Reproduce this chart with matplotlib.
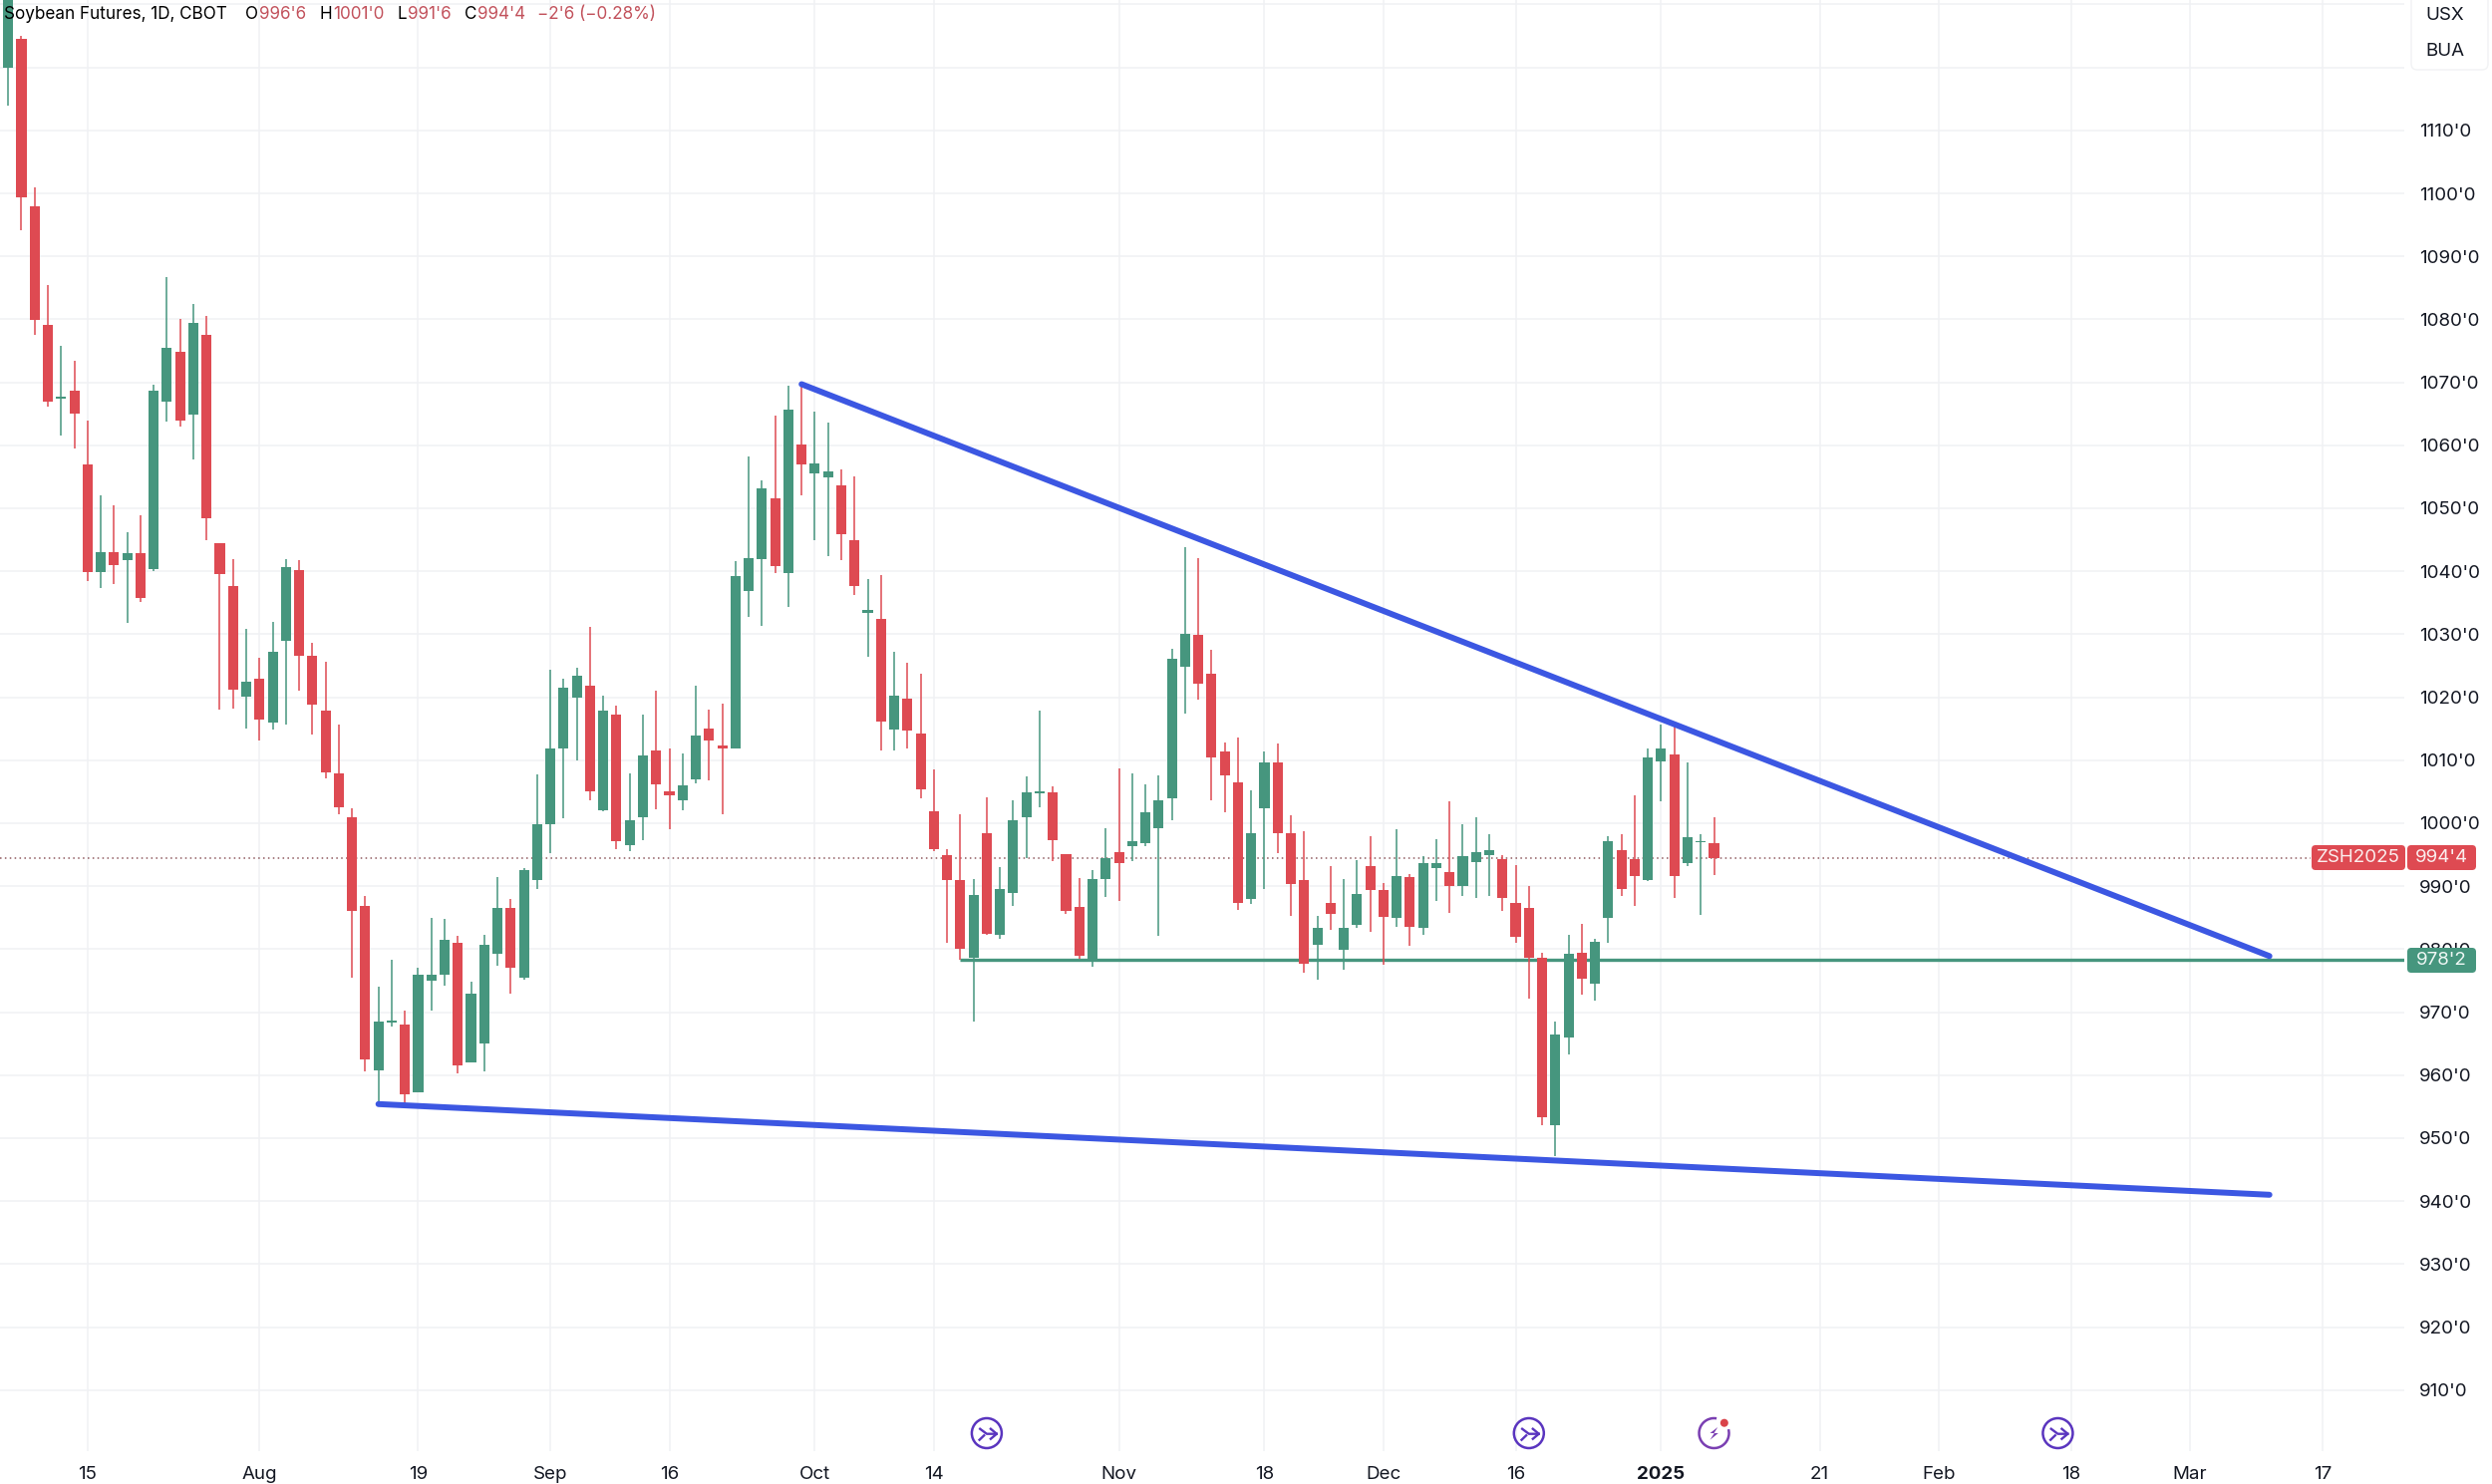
import matplotlib
matplotlib.use('Agg')
import matplotlib.pyplot as plt
from matplotlib.patches import FancyBboxPatch, Arc, Circle, Polygon

plt.rcParams['font.family'] = ['Inter', 'DejaVu Sans']

# %% Daily candles
opens = [1119.9, 1124.5, 1097.9, 1079.1, 1067.4, 1068.7, 1056.9, 1039.9, 1043.1, 1041.8,
         1042.8, 1040.3, 1066.9, 1074.9, 1064.9, 1077.6, 1044.4, 1037.7, 1020.1, 1022.9,
         1015.9, 1028.9, 1040.2, 1026.6, 1017.9, 1007.9, 1001.0, 986.8, 960.8, 968.3,
         968.1, 957.3, 975.0, 976.0, 981.0, 962.0, 965.0, 979.2, 986.6, 975.4,
         991.0, 999.9, 1011.9, 1019.9, 1021.9, 1002.1, 1017.2, 996.5, 1001.0, 1011.5,
         1005.0, 1003.7, 1006.9, 1015.0, 1012.4, 1011.9, 1036.8, 1041.9, 1051.6, 1039.7,
         1060.2, 1055.6, 1054.9, 1053.6, 1044.9, 1033.4, 1032.4, 1014.9, 1019.7, 1014.3,
         1001.9, 994.9, 990.9, 978.6, 998.4, 982.3, 988.9, 1000.9, 1004.8, 1004.9,
         995.1, 986.7, 978.2, 991.1, 995.4, 996.4, 996.9, 999.2, 1003.9, 1024.9,
         1029.9, 1023.7, 1011.4, 1006.5, 987.9, 1002.4, 1009.6, 998.4, 991.0, 980.7,
         987.4, 979.9, 983.9, 993.2, 989.4, 984.9, 991.4, 983.4, 992.9, 992.2,
         990.0, 993.9, 994.9, 994.3, 987.4, 986.5, 978.7, 952.0, 966.0, 979.4,
         974.5, 985.0, 995.7, 994.3, 990.9, 1009.8, 1010.9, 993.6, 997.0, 996.75]
closes = [1131.5, 1099.4, 1079.9, 1066.9, 1067.7, 1065.1, 1039.9, 1043.1, 1040.9, 1042.8,
          1035.8, 1068.7, 1075.4, 1063.9, 1079.5, 1048.4, 1039.5, 1021.2, 1022.4, 1016.4,
          1027.2, 1040.6, 1026.6, 1018.8, 1008.1, 1002.5, 986.0, 962.5, 968.5, 968.6,
          957.0, 976.0, 976.0, 981.5, 961.6, 973.0, 980.7, 986.6, 977.0, 992.6,
          999.9, 1011.9, 1021.5, 1023.4, 1005.0, 1017.9, 997.2, 1000.5, 1010.8, 1006.1,
          1004.5, 1006.0, 1013.9, 1013.2, 1011.9, 1039.2, 1042.1, 1053.1, 1040.8, 1065.6,
          1056.9, 1057.1, 1055.9, 1045.9, 1037.7, 1033.9, 1016.2, 1020.2, 1014.7, 1005.4,
          995.9, 990.9, 980.0, 988.6, 982.5, 989.6, 1000.5, 1004.9, 1005.0, 997.3,
          986.0, 978.9, 991.2, 994.5, 993.6, 997.2, 1001.7, 1003.6, 1026.1, 1030.1,
          1022.1, 1010.5, 1007.6, 987.3, 998.4, 1009.6, 998.4, 990.4, 977.7, 983.4,
          985.6, 983.4, 988.7, 989.4, 985.1, 991.6, 983.6, 993.6, 993.6, 990.0,
          994.7, 995.4, 995.7, 988.2, 981.9, 978.7, 953.3, 966.4, 979.2, 975.3,
          981.1, 997.2, 989.6, 991.6, 1010.5, 1011.9, 991.6, 997.7, 997.2, 994.5]
highs = [1135.0, 1125.0, 1101.0, 1085.4, 1075.8, 1073.4, 1064.0, 1052.0, 1050.4, 1046.2,
         1048.9, 1069.6, 1086.7, 1080.1, 1082.5, 1080.5, 1044.5, 1041.9, 1030.8, 1026.2,
         1031.9, 1041.9, 1041.7, 1028.6, 1025.7, 1015.7, 1002.4, 988.5, 974.1, 978.3,
         970.3, 977.0, 985.0, 984.8, 982.1, 974.8, 982.3, 991.5, 988.0, 992.8,
         1007.7, 1024.4, 1023.0, 1024.6, 1031.2, 1020.2, 1018.7, 1007.9, 1017.2, 1021.0,
         1011.9, 1011.0, 1021.9, 1018.1, 1019.0, 1041.6, 1058.2, 1054.4, 1064.7, 1069.4,
         1069.7, 1065.3, 1063.6, 1056.2, 1055.0, 1038.8, 1039.4, 1027.2, 1025.5, 1023.7,
         1008.5, 995.9, 1001.4, 991.2, 1004.1, 993.1, 1003.6, 1007.4, 1017.9, 1005.9,
         995.1, 991.3, 992.6, 999.2, 1008.7, 1007.9, 1006.1, 1007.6, 1027.7, 1043.9,
         1042.1, 1027.5, 1012.8, 1013.6, 1005.2, 1011.4, 1012.7, 1001.3, 998.8, 985.2,
         993.2, 991.2, 994.2, 997.9, 990.5, 999.0, 991.9, 994.7, 997.4, 1003.5,
         999.9, 1000.9, 998.3, 995.0, 993.4, 990.0, 979.4, 968.5, 982.2, 984.0,
         981.7, 997.9, 998.3, 1004.5, 1011.9, 1015.7, 1015.3, 1009.6, 998.3, 1001.0]
lows = [1114.0, 1094.2, 1077.5, 1066.1, 1061.5, 1059.5, 1038.5, 1037.3, 1038.0, 1031.8,
        1035.2, 1040.0, 1063.7, 1062.9, 1057.8, 1045.0, 1018.0, 1018.2, 1015.0, 1013.1,
        1014.9, 1015.6, 1021.1, 1014.0, 1007.1, 1001.4, 975.5, 960.6, 955.5, 967.7,
        955.0, 957.3, 970.2, 974.2, 960.3, 962.0, 960.6, 977.3, 972.9, 975.1,
        989.5, 995.3, 1000.8, 1010.0, 1003.6, 1001.9, 995.8, 995.5, 997.3, 1002.2,
        999.1, 1002.0, 1006.3, 1006.8, 1001.4, 1011.9, 1032.7, 1031.3, 1039.7, 1034.3,
        1052.0, 1044.9, 1042.4, 1041.8, 1036.2, 1026.4, 1011.5, 1011.5, 1011.8, 1004.0,
        995.5, 981.0, 978.3, 968.5, 982.3, 981.7, 986.8, 994.4, 1002.6, 994.0,
        985.6, 978.4, 977.2, 988.3, 987.7, 994.0, 996.4, 982.1, 1000.5, 1017.4,
        1019.6, 1003.7, 1001.7, 986.3, 987.1, 989.5, 995.2, 985.3, 976.3, 975.2,
        983.0, 976.8, 983.3, 982.8, 977.6, 983.5, 980.6, 982.3, 987.7, 985.7,
        988.5, 988.1, 988.5, 986.1, 981.0, 972.1, 952.1, 947.1, 963.3, 972.8,
        971.9, 981.0, 988.5, 986.8, 990.8, 1003.5, 988.1, 993.2, 985.5, 991.75]

# axis labels
price_ticks = [910, 920, 930, 940, 950, 960, 970, 980, 990, 1000, 1010,
               1020, 1030, 1040, 1050, 1060, 1070, 1080, 1090, 1100, 1110, 1120, 1130]
price_labels = [f"{p}'0" if p < 1120 else '' for p in price_ticks]
date_ticks = [6, 19, 31, 41, 50, 61, 70, 84, 95, 104, 114, 125, 137, 146, 156, 165, 175]
date_labels = ['15', 'Aug', '19', 'Sep', '16', 'Oct', '14', 'Nov', '18', 'Dec',
               '16', '2025', '21', 'Feb', '18', 'Mar', '17']

# drawn trend lines (bar index, price)
upper_x = [60, 171]
upper_y = [1069.7, 978.9]
lower_x = [28, 171]
lower_y = [955.4, 941.0]
support_x = [72, 181.2]
support_y = [978.25, 978.25]
last_price = 994.5
event_bars = [74, 115, 155]
news_bar = 129

RED = '#de4a52'
GREEN = '#46967e'
BLUE = '#3c57e2'
GRID = '#f0f1f4'
TEXT = '#131722'

# %% Chart
fig = plt.figure(figsize=(25, 14.89), dpi=100)
ax = fig.add_axes([0, 33 / 1489, 2412 / 2500, 1456 / 1489])
ax.set_xlim(-0.62, 181.2)
ax.set_ylim(900.3, 1130.7)
for s in ax.spines.values():
    s.set_visible(False)
ax.set_axisbelow(True)
ax.grid(color=GRID, linewidth=1.1)
ax.set_yticks(price_ticks, price_labels)
ax.set_xticks(date_ticks, date_labels)
ax.yaxis.tick_right()
ax.tick_params(axis='y', length=0, pad=10.8, labelsize=13.5, labelcolor=TEXT)
ax.tick_params(axis='x', length=0, pad=11, labelsize=13.5, labelcolor=TEXT)
for lab in ax.get_xticklabels():
    if lab.get_text() == '2025':
        lab.set_fontweight('bold')

ax.axhline(last_price, xmax=(2318 / 2412), color='#8f5a5f', linewidth=1.1, linestyle=(0, (1, 2.2)), zorder=1)
ax.plot(support_x, support_y, color=GREEN, linewidth=2.4, zorder=1.5, solid_capstyle='butt')

for i in range(len(opens)):
    col = GREEN if closes[i] >= opens[i] else RED
    ax.vlines(i, lows[i], highs[i], color=col, linewidth=1.1, zorder=2)
    ax.bar(i, closes[i] - opens[i], bottom=opens[i], width=0.76, color=col, linewidth=0, zorder=3)

ax.plot(upper_x, upper_y, color=BLUE, linewidth=4.3, solid_capstyle='round', zorder=4)
ax.plot(lower_x, lower_y, color=BLUE, linewidth=4.3, solid_capstyle='round', zorder=4)

# %% Overlay in pixels for the header, price badges and event icons
ov = fig.add_axes([0, 0, 1, 1])
ov.set_xlim(0, 2500)
ov.set_ylim(1489, 0)
ov.axis('off')
ov.patch.set_alpha(0)


def badge(x0, x1, y0, y1, color):
    ov.add_patch(FancyBboxPatch((x0 + 3, y0 + 3), x1 - x0 - 6, y1 - y0 - 6, boxstyle='round,pad=3,rounding_size=4',
                                facecolor=color, edgecolor='none'))


badge(2319, 2413, 848, 873, RED)
badge(2415, 2484, 848, 873, RED)
badge(2415, 2484, 951, 976, GREEN)
ov.text(2366, 860.5, 'ZSH2025', color='#fbeeee', fontsize=13.5, ha='center', va='center')
ov.text(2449.5, 860.5, "994'4", color='#fbeeee', fontsize=13.5, ha='center', va='center')
ov.text(2449.5, 963.5, "978'2", color='#eef7f4', fontsize=13.5, ha='center', va='center')

# currency box, top right
ov.add_patch(FancyBboxPatch((2425, -20), 65, 84, boxstyle='round,pad=6,rounding_size=6',
                            facecolor='white', edgecolor='#f1f2f4', linewidth=1))
ov.text(2433, 15, 'USX', color=TEXT, fontsize=13.5, va='center')
ov.text(2433, 52, 'BUA', color=TEXT, fontsize=13.5, va='center')

# header
HEAD_RED = '#c2525c'
head = [(3.6, 'Soybean Futures, 1D, CBOT', 'black'), (246, 'O', 'black'), (260, "996'6", HEAD_RED),
        (320.5, 'H', 'black'), (334, "1001'0", HEAD_RED), (398.7, 'L', 'black'), (409, "991'6", HEAD_RED),
        (465.6, 'C', 'black'), (478.6, "994'4", HEAD_RED), (539, "\u22122'6 (\u22120.28%)", HEAD_RED)]
for hx, txt, col in head:
    ov.text(hx, 14.5, txt, color=col, fontsize=12.3, va='center', ha='left')

# event icons along the bottom
ICON_Y = 1438
PURPLE = '#5a35bf'
for b in event_bars:
    cx = ax.transData.transform((b, 1000))[0]
    ov.add_patch(Circle((cx, ICON_Y), 15, fill=False, edgecolor=PURPLE, linewidth=1.8))
    ov.plot([cx - 6.7, cx, cx + 10], [ICON_Y - 4.3, ICON_Y + 0.7, ICON_Y + 0.7], color=PURPLE, linewidth=1.7)
    ov.plot([cx + 4, cx + 10, cx + 4], [ICON_Y - 4.3, ICON_Y + 0.7, ICON_Y + 5.7], color=PURPLE, linewidth=1.7)
    ov.plot([cx - 7.3, cx - 2.7], [ICON_Y + 6.7, ICON_Y + 2.3], color=PURPLE, linewidth=1.7)

nx = ax.transData.transform((news_bar, 1000))[0]
ov.add_patch(Arc((nx, ICON_Y), 30, 30, theta1=-15, theta2=280, edgecolor='#7a3fb2', linewidth=1.8))
ov.add_patch(Polygon([(nx + 3.7, ICON_Y - 6), (nx - 4, ICON_Y), (nx + 0.3, ICON_Y), (nx - 4, ICON_Y + 6.7),
                      (nx + 4.3, ICON_Y), (nx, ICON_Y)], closed=True, facecolor='#7a3fb2', edgecolor='none'))
ov.add_patch(Circle((nx + 10.3, ICON_Y - 10.3), 4, facecolor='#d9434a', edgecolor='none'))

fig.savefig('out.png', dpi=100)
